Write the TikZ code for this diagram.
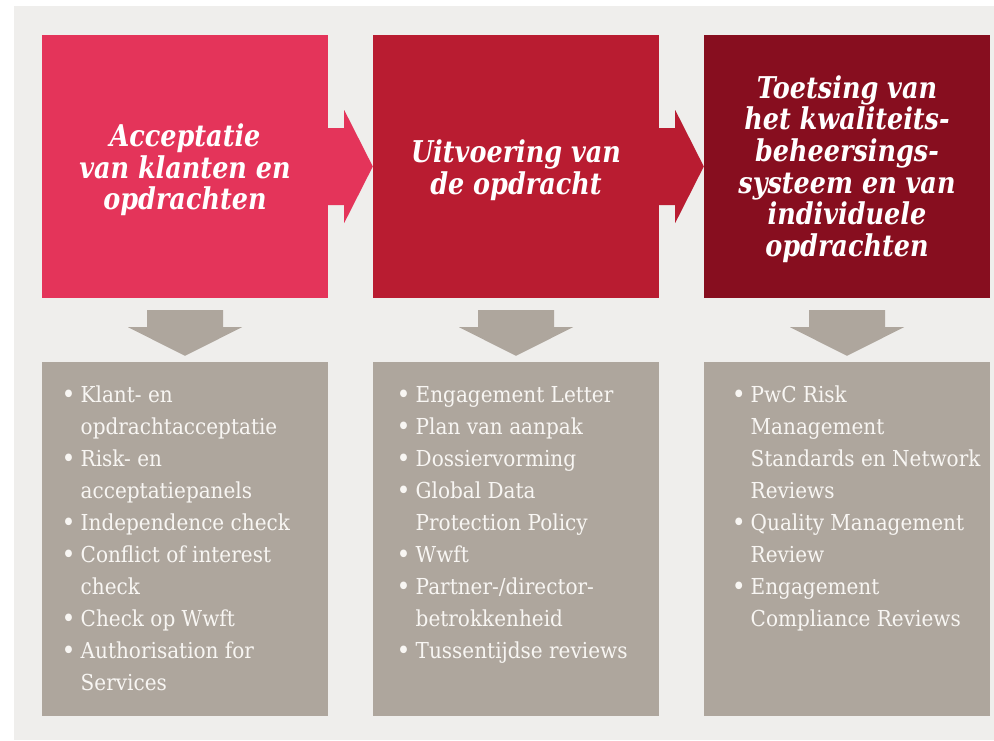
\documentclass[tikz,border=0pt]{standalone}
\usepackage{fontspec}
\usetikzlibrary{calc}
\setmainfont{DejaVu Serif}
\newfontfamily\bodyfont{DejaVu Serif}[FakeStretch=0.91]
\newfontfamily\headfont{DejaVu Serif}[FakeStretch=0.85]

\definecolor{panelbg}{HTML}{EFEEEC}
\definecolor{stepone}{HTML}{E4345A}
\definecolor{steptwo}{HTML}{B91C31}
\definecolor{stepthree}{HTML}{870E1F}
\definecolor{listgray}{HTML}{AEA69D}
\definecolor{listtext}{HTML}{F8F6F3}

% zero-width bullet hanging to the left of the line
\newcommand{\bul}{\makebox[0pt][r]{\raisebox{-1pt}{\fontsize{26}{26}\selectfont\textbullet}\hspace{5pt}}}
\newcommand{\firststrut}{\rule{0pt}{20pt}}

\tikzset{
  headbox/.style={draw=none, minimum width=286pt, minimum height=263pt, inner sep=0pt},
  listbox/.style={draw=none, fill=listgray, minimum width=286pt, minimum height=354pt, inner sep=0pt},
  headtext/.style={text=white, align=center, inner sep=0pt,
    font=\headfont\bfseries\itshape\fontsize{30}{31.7}\selectfont},
  listtext/.style={text=listtext, align=left, inner sep=0pt, anchor=north west,
    font=\bodyfont\fontsize{22}{32}\selectfont},
}

\begin{document}
\begin{tikzpicture}[x=1pt,y=-1pt]
\useasboundingbox (0,0) rectangle (994,740);
\fill[white] (0,0) rectangle (994,740);
\fill[panelbg] (14,6) rectangle (994,740);

% stage boxes
\node[headbox, fill=stepone]   (h1) at (185,166.5) {};
\node[headbox, fill=steptwo]   (h2) at (516,166.5) {};
\node[headbox, fill=stepthree] (h3) at (847,166.5) {};

% arrows between the stages
\fill[stepone] ($(h1.east)+(0,-38.5)$) -- ++(16,0) -- ++(0,-18) -- (h2.west)
  -- ($(h1.east)+(16,56.5)$) -- ++(0,-18) -- ($(h1.east)+(0,38.5)$) -- cycle;
\fill[steptwo] ($(h2.east)+(0,-38.5)$) -- ++(16,0) -- ++(0,-18) -- (h3.west)
  -- ($(h2.east)+(16,56.5)$) -- ++(0,-18) -- ($(h2.east)+(0,38.5)$) -- cycle;

% stage titles
\node[headtext] (t1) at ($(h1.center)+(0,3.5)$) {Acceptatie\\van klanten en\\opdrachten};
\node[headtext] (t2) at ($(h2.center)+(0,3.5)$) {Uitvoering van\\de opdracht};
\node[headtext] (t3) at ($(h3.center)+(0,2.5)$) {Toetsing van\\het kwaliteits-\\beheersings-\\systeem en van\\individuele\\opdrachten};

% list panels
\node[listbox] (b1) at (185,539) {};
\node[listbox] (b2) at (516,539) {};
\node[listbox] (b3) at (847,539) {};

% downward arrows from stage to list
\foreach \s/\b in {h1/b1,h2/b2,h3/b3}{
  \fill[listgray] ($(\s.south)+(-38,12)$) -- ++(76,0) -- ++(0,17) -- ++(19,0)
    -- ($(\b.north)+(0,-6)$) -- ($(\s.south)+(-57,29)$) -- ++(19,0) -- cycle;
}

% list contents
\node[listtext] (l1) at ($(b1.north west)+(38.7,20.7)$) {%
\bul\firststrut Klant- en\\
opdrachtacceptatie\\
\bul Risk- en\\
acceptatiepanels\\
\bul Independence check\\
\bul Conflict of interest\\
check\\
\bul Check op Wwft\\
\bul Authorisation for\\
Services};

\node[listtext] (l2) at ($(b2.north west)+(42.7,20.7)$) {%
\bul\firststrut Engagement Letter\\
\bul Plan van aanpak\\
\bul Dossiervorming\\
\bul Global Data\\
Protection Policy\\
\bul Wwft\\
\bul Partner-/director-\\
betrokkenheid\\
\bul Tussentijdse reviews};

\node[listtext] (l3) at ($(b3.north west)+(46.7,20.7)$) {%
\bul\firststrut PwC Risk\\
Management\\
Standards en Network\\
Reviews\\
\bul Quality Management\\
Review\\
\bul Engagement\\
Compliance Reviews};
\end{tikzpicture}
\end{document}
